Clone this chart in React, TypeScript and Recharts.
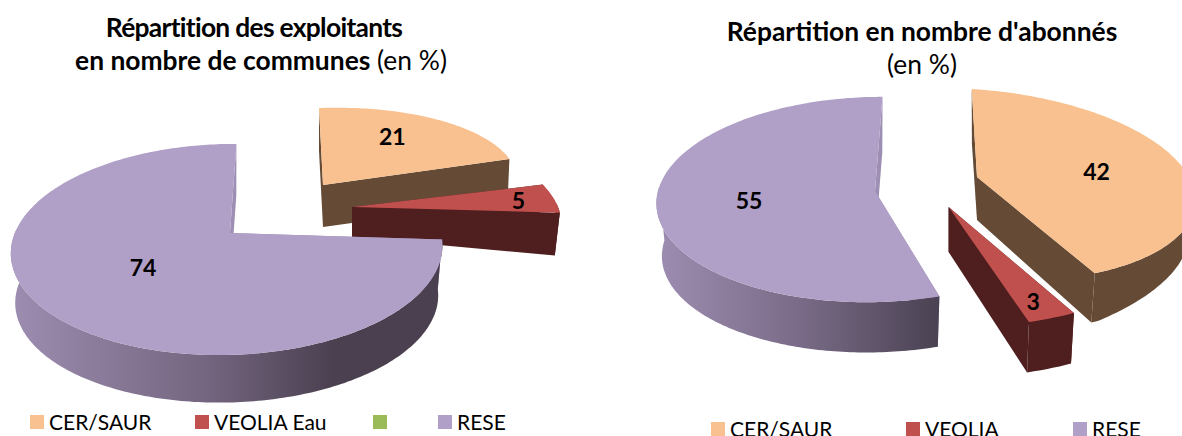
import React from 'react';
import { PieChart, Pie, Legend } from 'recharts';

const FONT = 'Lato, "Open Sans", sans-serif';

// Left chart: share of municipalities
const communesNames = ['CER/SAUR', 'VEOLIA Eau', '', 'RESE'];
const communesValues = [21, 5, 0, 74];
const communesColors = ['#F8C18F', '#C0504D', '#9BBB59', '#B09FC6'];

// Right chart: share of subscribers
const abonnesNames = ['CER/SAUR', 'VEOLIA', 'RESE'];
const abonnesValues = [42, 3, 55];
const abonnesColors = ['#F8C18F', '#C0504D', '#B09FC6'];

const toRows = (names: string[], values: number[], colors: string[]) =>
  names.map((name, i) => ({ name, value: values[i], fill: colors[i] }));

interface Look {
  explode: [number, number]; // pull-out of the slice from the pie centre
  rx: number;
  ry: number;
  k?: number; // perspective, back of the pie shrinks
  m?: number; // perspective, right side shrinks
  xPerY?: number;
  yPerX?: number;
  depth: number;
  apexDepth: number;
  shrink: number; // lower plane is slightly smaller
  taper?: [number, number]; // wall gets shorter past this x offset
  wall: string;
  side?: string;
  labelAt: number;
  labelNudge?: [number, number];
}

const communesLook: Look[] = [
  { explode: [93, -48], rx: 193.5, ry: 77, xPerY: 0.052, yPerX: -0.036, depth: 42, apexDepth: 42, shrink: 0.99, wall: '#654B36', labelAt: 0.6, labelNudge: [0, -10] },
  { explode: [122, -26], rx: 206, ry: 90, xPerY: 0.39, depth: 43, apexDepth: 30, shrink: 0.976, wall: '#4F1E1E', labelAt: 0.81, labelNudge: [3, 0] },
  { explode: [0, 0], rx: 0, ry: 0, depth: 0, apexDepth: 0, shrink: 1, wall: '#000', labelAt: 0 },
  { explode: [0, 0], rx: 213, ry: 103, k: 0.156, m: 0.01, xPerY: -0.072, depth: 50, apexDepth: 50, shrink: 0.98, wall: 'url(#wallLeft)', side: '#9D8EB3', labelAt: 0.5, labelNudge: [-2, -3] },
];

const abonnesLook: Look[] = [
  { explode: [102, -14], rx: 217, ry: 95, k: 0.08, xPerY: 0.06, yPerX: 0.06, depth: 52, apexDepth: 43, shrink: 0.97, taper: [125, 0.175], wall: '#654B36', labelAt: 0.55, labelNudge: [6, 0] },
  { explode: [73.6, 16], rx: 260, ry: 121, depth: 53, apexDepth: 45, shrink: 0.977, wall: '#4F1E1E', labelAt: 0.82, labelNudge: [0, 3] },
  { explode: [0, 0], rx: 217, ry: 102, k: 0.083, xPerY: -0.08, depth: 53, apexDepth: 53, shrink: 0.975, wall: 'url(#wallRight)', side: '#9D8EB3', labelAt: 0.58 },
];

// screen offset from the slice apex for an angle and a fraction of the radius
const project = (look: Look, angle: number, f = 1): [number, number] => {
  const rad = (angle * Math.PI) / 180;
  const u = Math.cos(rad) * f;
  const v = Math.sin(rad) * f;
  const den = 1 + (look.k || 0) * v + (look.m || 0) * u;
  const x = (look.rx * u) / den;
  const y = (-look.ry * v) / den;
  return [x + (look.xPerY || 0) * y, y + (look.yPerX || 0) * x];
};

const poly = (pts: [number, number][]) =>
  'M' + pts.map((p) => `${p[0].toFixed(1)},${p[1].toFixed(1)}`).join('L') + 'Z';

const makeSlice = (looks: Look[]) => (props: any) => {
  const { cx, cy, startAngle, endAngle, fill, index, value } = props;
  if (!value) return <g />;
  const look = looks[index];
  const ax = cx + look.explode[0];
  const ay = cy + look.explode[1];

  const angles: number[] = [];
  const steps = Math.ceil(Math.abs(endAngle - startAngle));
  for (let i = 0; i <= steps; i++) {
    angles.push(startAngle + ((endAngle - startAngle) * i) / steps);
  }
  const rim = angles.map((a) => project(look, a));
  // only the front of the rim shows a wall
  const front = angles
    .filter((a) => Math.sin((a * Math.PI) / 180) < 0.05)
    .map((a) => project(look, a));
  const top = (p: [number, number]): [number, number] => [ax + p[0], ay + p[1]];
  const low = (p: [number, number]): [number, number] => {
    const cut = look.taper ? Math.max(0, p[0] - look.taper[0]) * look.taper[1] : 0;
    return [ax + p[0] * look.shrink, ay + p[1] * look.shrink + look.depth - cut];
  };
  const apexTop: [number, number] = [ax, ay];
  const apexLow: [number, number] = [ax, ay + look.apexDepth];

  const first = rim[0];
  const last = rim[rim.length - 1];
  const side = look.side || look.wall;

  return (
    <g>
      <path d={poly([apexTop, top(first), low(first), apexLow])} fill={side} />
      <path d={poly([apexTop, top(last), low(last), apexLow])} fill={side} />
      {front.length > 1 && (
        <path d={poly([...front.map(top), ...front.map(low).reverse()])} fill={look.wall} />
      )}
      <path d={poly([apexTop, ...rim.map(top)])} fill={fill} />
    </g>
  );
};

const makeLabel = (looks: Look[]) => (props: any) => {
  const { cx, cy, midAngle, value, index } = props;
  if (!value) return <g />;
  const look = looks[index];
  const p = project(look, midAngle, look.labelAt);
  const nudge = look.labelNudge || [0, 0];
  return (
    <text
      x={cx + look.explode[0] + p[0] + nudge[0]}
      y={cy + look.explode[1] + p[1] + nudge[1]}
      textAnchor="middle"
      dominantBaseline="central"
      fontFamily={FONT}
      fontWeight={700}
      fontSize={23}
      fill="#000"
    >
      {value}
    </text>
  );
};

// legend items sit at irregular x positions in the source
const makeLegend = (xs: number[]) => (props: any) => (
  <div style={{ position: 'relative', height: 30, fontFamily: FONT, fontSize: 21, color: '#000' }}>
    {(props.payload || []).map((item: any, i: number) => (
      <div key={i} style={{ position: 'absolute', left: xs[i], top: 0, whiteSpace: 'nowrap', lineHeight: '30px' }}>
        <span
          style={{
            position: 'absolute',
            left: 0,
            top: 8,
            width: 14,
            height: 14,
            background: item.payload.fill,
          }}
        />
        <span style={{ marginLeft: 19 }}>{item.value}</span>
      </div>
    ))}
  </div>
);

const titleStyle: React.CSSProperties = {
  position: 'absolute',
  textAlign: 'center',
  fontFamily: FONT,
  fontSize: 26.4,
  lineHeight: '33px',
  color: '#000',
  whiteSpace: 'nowrap',
};

const overlay: React.CSSProperties = { position: 'absolute', left: 0, top: 0 };

const App: React.FC = () => (
  <div style={{ position: 'absolute', left: 0, top: 0, width: 1182, height: 436, overflow: 'hidden', background: '#fff' }}>
    <div style={overlay}>
      <PieChart width={1182} height={436} margin={{ top: 0, right: 0, bottom: 0, left: 0 }}>
        <defs>
          <linearGradient id="wallLeft" x1="0" y1="0" x2="1" y2="0">
            <stop offset="0" stopColor="#9D8DB1" />
            <stop offset="0.45" stopColor="#746680" />
            <stop offset="0.75" stopColor="#4A4050" />
            <stop offset="1" stopColor="#4A4050" />
          </linearGradient>
        </defs>
        <Pie
          data={toRows(communesNames, communesValues, communesColors)}
          dataKey="value"
          nameKey="name"
          cx={230}
          cy={233}
          outerRadius={100}
          startAngle={90}
          endAngle={-270}
          stroke="none"
          isAnimationActive={false}
          shape={makeSlice(communesLook)}
          label={makeLabel(communesLook)}
          labelLine={false}
        />
        <Legend
          itemSorter={null}
          content={makeLegend([30, 195, 373, 438])}
          wrapperStyle={{ position: 'absolute', left: 0, top: 407, width: 600, height: 30 }}
        />
      </PieChart>
    </div>

    <div style={overlay}>
      <PieChart width={1182} height={436} margin={{ top: 0, right: 0, bottom: 0, left: 0 }}>
        <defs>
          <linearGradient id="wallRight" x1="0" y1="0" x2="1" y2="0">
            <stop offset="0" stopColor="#9D8DB1" />
            <stop offset="0.5" stopColor="#7A6C88" />
            <stop offset="1" stopColor="#4A4152" />
          </linearGradient>
        </defs>
        <Pie
          data={toRows(abonnesNames, abonnesValues, abonnesColors)}
          dataKey="value"
          nameKey="name"
          cx={875}
          cy={191}
          outerRadius={100}
          startAngle={90}
          endAngle={-270}
          stroke="none"
          isAnimationActive={false}
          shape={makeSlice(abonnesLook)}
          label={makeLabel(abonnesLook)}
          labelLine={false}
        />
        <Legend
          itemSorter={null}
          content={makeLegend([711, 906, 1073])}
          wrapperStyle={{ position: 'absolute', left: 0, top: 414, width: 1182, height: 30 }}
        />
      </PieChart>
    </div>

    <div style={{ ...titleStyle, left: 0, width: 522, top: 11 }}>
      <b style={{ letterSpacing: -0.7, position: 'relative', left: -7 }}>Répartition des exploitants</b>
      <br />
      <b>en nombre de communes</b> (en %)
    </div>
    <div style={{ ...titleStyle, left: 622, width: 600, top: 15 }}>
      <b>Répartition en nombre d'abonnés</b>
      <br />
      (en %)
    </div>
  </div>
);

export default App;
